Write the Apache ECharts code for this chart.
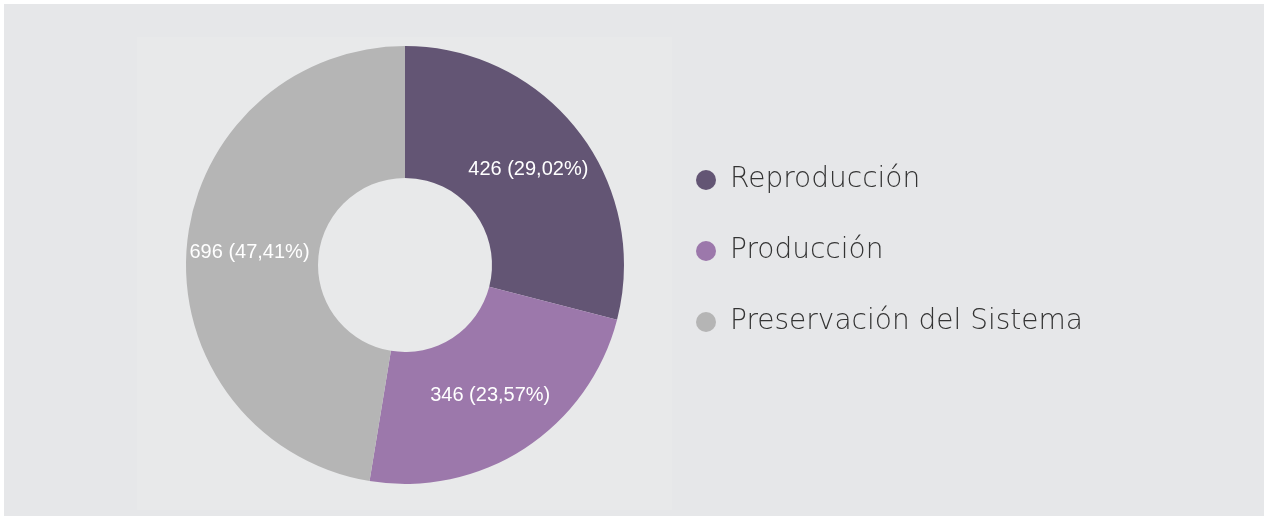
<!DOCTYPE html>
<html>
<head>
<meta charset="utf-8">
<script src="https://cdn.jsdelivr.net/npm/echarts@6/dist/echarts.min.js"></script>
<style>
  html, body { margin: 0; padding: 0; background: #ffffff; }
  #pie-chart { width: 1264px; height: 518px; }
</style>
</head>
<body>
<div id="pie-chart"></div>
<script>
var categories = ["Reproducción", "Producción", "Preservación del Sistema"];
var values = [426, 346, 696];
var colors = ["#635574", "#9c78ab", "#b5b5b5"];

var chart = echarts.init(document.getElementById("pie-chart"));

var pieData = categories.map(function (name, i) {
  return { name: name, value: values[i], itemStyle: { color: colors[i] } };
});

var option = {
  backgroundColor: "#ffffff",
  animation: false,
  graphic: [
    {
      type: "rect",
      z: -10,
      shape: { x: 4, y: 4, width: 1260, height: 512 },
      style: { fill: "#e6e7e9" }
    },
    {
      type: "rect",
      z: -9,
      shape: { x: 137, y: 37, width: 535, height: 473 },
      style: { fill: "#e8e9ea" }
    }
  ],
  legend: {
    orient: "vertical",
    left: 696,
    top: 166,
    padding: 0,
    icon: "circle",
    itemWidth: 20,
    itemHeight: 20,
    itemGap: 43,
    textStyle: {
      fontFamily: "DejaVu Sans",
      fontWeight: 200,
      fontSize: 28,
      color: "#333333",
      padding: [0, 0, 0, 9]
    },
    data: categories
  },
  series: [
    {
      type: "pie",
      center: [405, 265],
      radius: [87, 219],
      startAngle: 90,
      clockwise: true,
      label: {
        show: true,
        position: "inside",
        color: "#ffffff",
        fontFamily: "Liberation Sans",
        fontSize: 20,
        formatter: function (p) {
          return p.value + " (" + p.percent.toFixed(2).replace(".", ",") + "%)";
        }
      },
      labelLine: { show: false },
      emphasis: { disabled: true },
      data: pieData
    }
  ]
};

chart.setOption(option);
</script>
</body>
</html>
